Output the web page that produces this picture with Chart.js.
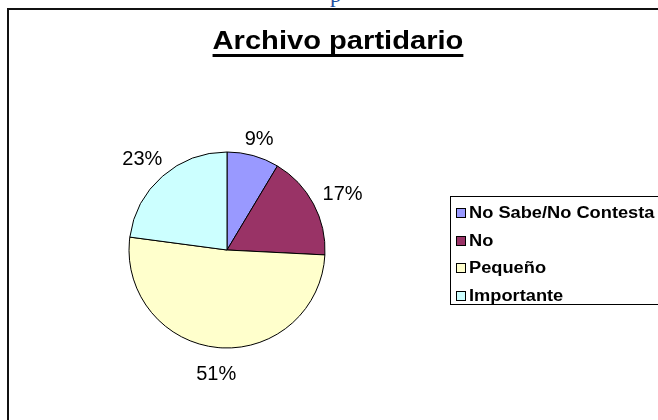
<!DOCTYPE html>
<html>
<head>
<meta charset="utf-8">
<script src="https://cdn.jsdelivr.net/npm/chart.js@4"></script>
<style>
  body { margin: 0; background: #fff; width: 658px; height: 420px; overflow: hidden; position: relative; font-family: "Liberation Sans", Arial, sans-serif; }
  #marco { position: absolute; left: 7px; top: 8px; width: 700px; height: 500px; border-top: 2px solid #111; border-left: 2px solid #111; }
  #cabecera { position: absolute; left: 330px; top: -17px; font: 23px/1 "Liberation Serif", serif; color: #1f4f9e; }
  #grafica { position: absolute; left: 0; top: 0; }
  #titulo { position: absolute; left: 0; top: 25px; width: 676px; text-align: center; font: bold 26px/30px "Liberation Sans", Arial, sans-serif; }
  #titulo span { display: inline-block; transform: scaleX(1.12); text-decoration: underline; text-decoration-thickness: 3px; text-underline-offset: 5px; }
  #leyenda { position: absolute; left: 450px; top: 196px; width: 230px; height: 109px; border: 1px solid #000; padding-top: 2px; box-sizing: border-box; }
  .fila { display: flex; align-items: center; height: 27.7px; }
  .cuadro { width: 8px; height: 8px; border: 1px solid #000; margin-left: 5px; margin-right: 3px; }
  .fila span { display: inline-block; font: bold 16px "Liberation Sans", Arial, sans-serif; transform: scaleX(1.14); transform-origin: left center; white-space: nowrap; }
</style>
</head>
<body>
<div id="marco"></div>
<div id="cabecera">p</div>
<canvas id="grafica" width="658" height="420"></canvas>
<div id="titulo"><span>Archivo partidario</span></div>
<div id="leyenda"></div>
<script>
const categorias = ["No Sabe/No Contesta", "No", "Pequeño", "Importante"];
const valores = [8.6, 17.2, 51.3, 22.9];
const colores = ["#9999FF", "#993366", "#FFFFCC", "#CCFFFF"];

const total = valores.reduce((a, b) => a + b, 0);

// etiquetas de porcentaje fuera de cada porcion
const etiquetas = {
  id: "etiquetas",
  afterDatasetsDraw(chart) {
    const ctx = chart.ctx;
    const meta = chart.getDatasetMeta(0);
    ctx.save();
    ctx.font = "20px 'Liberation Sans', Arial, sans-serif";
    ctx.fillStyle = "#000";
    ctx.textAlign = "center";
    ctx.textBaseline = "middle";
    meta.data.forEach((arco, i) => {
      const p = arco.getProps(["x", "y", "startAngle", "endAngle", "outerRadius"], true);
      const medio = (p.startAngle + p.endAngle) / 2;
      const texto = Math.round(valores[i] / total * 100) + "%";
      const w = ctx.measureText(texto).width;
      const h = 14;
      const c = Math.cos(medio), s = Math.sin(medio);
      const d = p.outerRadius + 12 + Math.abs(c) * w / 2 + Math.abs(s) * h / 2;
      ctx.fillText(texto, p.x + c * d, p.y + s * d + 6);
    });
    ctx.restore();
  }
};

new Chart(document.getElementById("grafica"), {
  type: "pie",
  data: {
    labels: categorias,
    datasets: [{
      data: valores,
      backgroundColor: colores,
      borderColor: "#000",
      borderWidth: 1,
      hoverOffset: 0,
      radius: 98
    }]
  },
  options: {
    responsive: false,
    animation: false,
    devicePixelRatio: 1,
    layout: { padding: { left: 100, right: 304, top: 130, bottom: 50 } },
    plugins: {
      legend: { display: false },
      tooltip: { enabled: false }
    }
  },
  plugins: [etiquetas]
});

// leyenda
const leyenda = document.getElementById("leyenda");
categorias.forEach((nombre, i) => {
  const fila = document.createElement("div");
  fila.className = "fila";
  const cuadro = document.createElement("div");
  cuadro.className = "cuadro";
  cuadro.style.background = colores[i];
  const texto = document.createElement("span");
  texto.textContent = nombre;
  fila.appendChild(cuadro);
  fila.appendChild(texto);
  leyenda.appendChild(fila);
});
</script>
</body>
</html>
